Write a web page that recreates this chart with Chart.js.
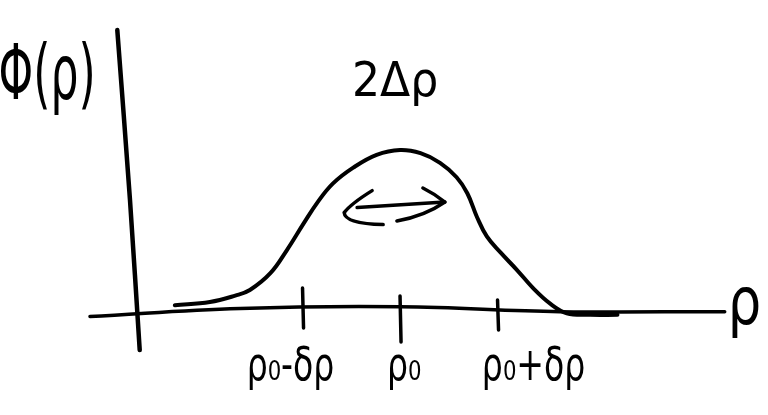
<!DOCTYPE html>
<html>
<head>
<meta charset="utf-8">
<title>Φ(ρ) sketch</title>
<script src="https://cdn.jsdelivr.net/npm/chart.js@4.4.1/dist/chart.umd.min.js"></script>
<style>
  html, body { margin: 0; padding: 0; background: #fff; }
  .wrap { position: relative; width: 768px; height: 415px; }
</style>
</head>
<body>
<div class="wrap"><canvas id="sketch"></canvas></div>
<script>
// ---- data (rho in units of delta-rho, centred on rho_0; phi scaled to peak = 1) ----
const curveRho = [-2.31, -1.95, -1.69, -1.54, -1.33, -1.16, -0.99, -0.85, -0.69, -0.48, -0.24, 0.00,
                  0.21, 0.41, 0.58, 0.69, 0.79, 0.89, 1.03, 1.20, 1.36, 1.54, 1.71, 1.95, 2.23];
const curvePhi = [0.03, 0.05, 0.09, 0.125, 0.23, 0.375, 0.54, 0.67, 0.79, 0.89, 0.97, 1.00,
                  0.98, 0.92, 0.83, 0.73, 0.58, 0.46, 0.36, 0.25, 0.14, 0.04, -0.02, -0.03, -0.03];

// hand-drawn axes
const xAxisRho = [-3.18, -1.64, 0, 1.64, 3.33];
const xAxisPhi = [-0.04, 0.01, 0.02, -0.01, -0.01];
const yAxisRho = [-2.90, -2.77, -2.67];
const yAxisPhi = [1.75, 0.69, -0.25];

// the width arrow (2 delta-rho) under the peak
const arrowRho = [-0.44, 0.46];
const arrowPhi = [0.64, 0.675];

const tickValues = [-1, 0, 1];
const tickLabels = ['ρ₀-δρ', 'ρ₀', 'ρ₀+δρ'];

const pts = (xs, ys) => xs.map((x, i) => ({ x: x, y: ys[i] }));

const INK = '#000';
const HAND = "'DejaVu Sans', sans-serif";

const strokeSet = (data, width, tension) => ({
  data: data,
  borderColor: INK,
  borderWidth: width,
  borderCapStyle: 'round',
  borderJoinStyle: 'round',
  tension: tension,
  pointRadius: 0,
  fill: false,
});

// tall, narrow lettering like the handwriting
function write(ctx, text, x, y, size, squeeze, align) {
  ctx.save();
  ctx.translate(x, y);
  ctx.scale(squeeze, 1);
  ctx.font = size + 'px ' + HAND;
  ctx.textAlign = align;
  ctx.fillText(text, 0, 0);
  ctx.restore();
}

// ticks, arrow heads and the written labels
const sketchMarks = {
  id: 'sketchMarks',
  afterDatasetsDraw(chart) {
    const ctx = chart.ctx;
    const xs = chart.scales.x, ys = chart.scales.y;
    const axisY = ys.getPixelForValue(0);

    ctx.save();
    ctx.strokeStyle = INK;
    ctx.fillStyle = INK;
    ctx.lineCap = 'round';
    ctx.lineJoin = 'round';
    ctx.lineWidth = 3.5;
    ctx.textBaseline = 'alphabetic';

    // tick marks across the rho axis
    const tickUp = [22, 14, 10], tickDown = [18, 32, 20];
    const labelNudge = [-12, 4, 36];
    tickValues.forEach((v, i) => {
      const px = xs.getPixelForValue(v);
      ctx.beginPath();
      ctx.moveTo(px, axisY - tickUp[i]);
      ctx.lineTo(px + 1, axisY + tickDown[i]);
      ctx.stroke();
      write(ctx, tickLabels[i], px + labelNudge[i], axisY + 70, 46, 0.72, 'center');
    });

    // open chevrons at both ends of the arrow
    const arrow = chart.getDatasetMeta(3).data;
    const a = arrow[0], b = arrow[arrow.length - 1];
    ctx.beginPath();
    ctx.moveTo(a.x + 15, a.y - 17);
    ctx.quadraticCurveTo(a.x - 6, a.y - 4, a.x - 13, a.y + 5);
    ctx.quadraticCurveTo(a.x - 12, a.y + 16, a.x + 26, a.y + 17);
    ctx.stroke();
    ctx.beginPath();
    ctx.moveTo(b.x - 22, b.y - 14);
    ctx.quadraticCurveTo(b.x - 10, b.y - 8, b.x, b.y);
    ctx.quadraticCurveTo(b.x - 20, b.y + 14, b.x - 48, b.y + 19);
    ctx.stroke();

    // axis names and the width label
    write(ctx, 'Φ(ρ)', xs.getPixelForValue(-3.62), ys.getPixelForValue(1.32), 76, 0.58, 'center');
    write(ctx, '2Δρ', xs.getPixelForValue(-0.05), ys.getPixelForValue(1.34), 48, 0.92, 'center');
    write(ctx, 'ρ', xs.getPixelForValue(3.36), axisY + 14, 66, 0.8, 'left');
    ctx.restore();
  }
};

new Chart(document.getElementById('sketch'), {
  type: 'line',
  data: {
    datasets: [
      strokeSet(pts(curveRho, curvePhi), 4, 0.4),
      strokeSet(pts(xAxisRho, xAxisPhi), 3.5, 0.4),
      strokeSet(pts(yAxisRho, yAxisPhi), 4.5, 0.3),
      strokeSet(pts(arrowRho, arrowPhi), 3.5, 0),
    ]
  },
  options: {
    responsive: true,
    maintainAspectRatio: false,
    animation: false,
    layout: { padding: 0 },
    plugins: {
      legend: { display: false },
      tooltip: { enabled: false },
    },
    scales: {
      x: { type: 'linear', min: -4.103, max: 3.774, display: false },
      y: { type: 'linear', min: -0.656, max: 1.9375, display: false },
    },
  },
  plugins: [sketchMarks],
});
</script>
</body>
</html>
